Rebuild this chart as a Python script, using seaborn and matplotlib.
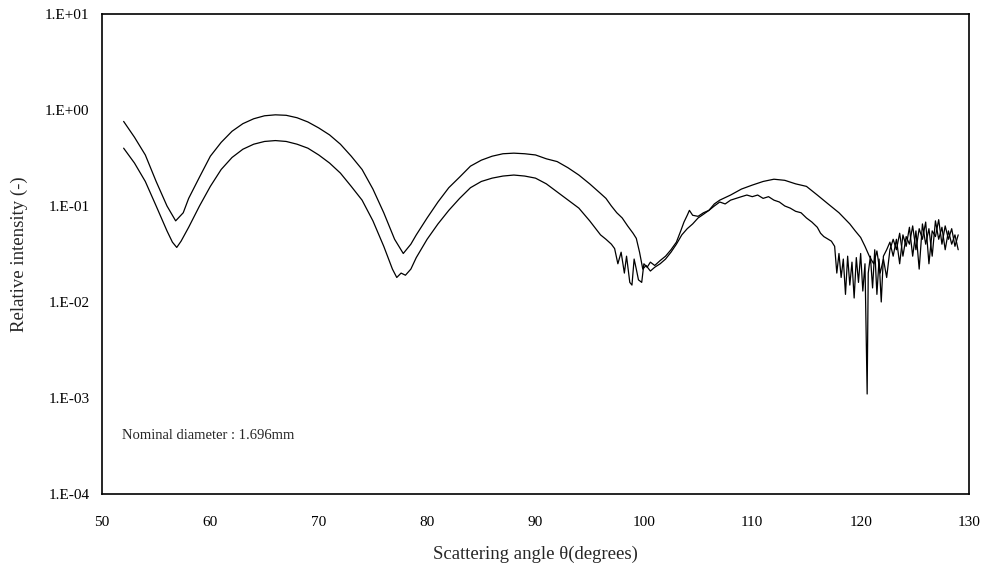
import numpy as np
import pandas as pd
import seaborn as sns
import matplotlib
matplotlib.use("Agg")
import matplotlib.pyplot as plt

# 상단 곡선 (smooth, fewer lobes)
angle_a = [52, 53, 54, 55, 56, 56.8, 57.5, 58, 59, 60, 61, 62, 63, 64, 65, 66, 67, 68, 69, 70,
           71, 72, 73, 74, 75, 76, 77, 77.8, 78.5, 79, 80, 81, 82, 83, 84, 85, 86, 87, 88, 89,
           90, 91, 92, 93, 94, 95, 96, 96.5, 97, 97.5, 98, 98.5, 99, 99.3, 99.6, 99.9, 100.2,
           100.6, 101, 101.5, 102, 102.5, 103, 103.5, 104, 104.5, 105, 105.5, 106, 106.5, 107,
           108, 109, 110, 111, 111.5, 112, 113, 114, 115, 116, 117, 118, 119, 119.5, 120, 120.4,
           120.8, 121.2, 121.5, 121.8, 122.1, 122.4, 122.7, 123.0, 123.3, 123.6, 123.9, 124.2,
           124.5, 124.8, 125.1, 125.4, 125.7, 126.0, 126.3, 126.6, 126.9, 127.2, 127.5, 127.8,
           128.1, 128.4, 128.7, 129.0]
inten_a = [0.76, 0.52, 0.34, 0.18, 0.10, 0.070, 0.085, 0.12, 0.20, 0.33, 0.46, 0.60, 0.72, 0.81,
           0.87, 0.89, 0.88, 0.83, 0.75, 0.65, 0.55, 0.44, 0.33, 0.24, 0.15, 0.085, 0.045, 0.032,
           0.040, 0.050, 0.075, 0.11, 0.155, 0.20, 0.26, 0.30, 0.33, 0.35, 0.355, 0.35, 0.34,
           0.31, 0.29, 0.25, 0.21, 0.17, 0.135, 0.12, 0.10, 0.085, 0.075, 0.062, 0.052, 0.046,
           0.033, 0.022, 0.024, 0.021, 0.023, 0.025, 0.028, 0.033, 0.040, 0.050, 0.058, 0.065,
           0.075, 0.082, 0.090, 0.105, 0.115, 0.13, 0.15, 0.165, 0.18, 0.185, 0.19, 0.185, 0.17,
           0.16, 0.13, 0.105, 0.085, 0.065, 0.055, 0.047, 0.038, 0.030, 0.025, 0.034, 0.020,
           0.028, 0.018, 0.035, 0.045, 0.035, 0.052, 0.030, 0.048, 0.040, 0.062, 0.035, 0.058,
           0.045, 0.068, 0.025, 0.055, 0.048, 0.072, 0.040, 0.062, 0.045, 0.058, 0.038, 0.050]

# 하단 곡선 (noisier, more lobes)
angle_b = [52, 53, 54, 55, 56, 56.5, 56.9, 57.3, 58, 59, 60, 61, 62, 63, 64, 65, 66, 67, 68, 69,
           70, 71, 72, 73, 74, 75, 76, 76.8, 77.2, 77.6, 78.0, 78.5, 79, 80, 81, 82, 83, 84, 85,
           86, 87, 88, 89, 90, 91, 92, 93, 94, 95, 96, 96.5, 97, 97.3, 97.6, 97.9, 98.2, 98.4,
           98.7, 98.9, 99.1, 99.3, 99.5, 99.8, 100, 100.3, 100.6, 101, 101.5, 102, 102.5, 103,
           103.4, 103.7, 104, 104.2, 104.5, 105, 105.5, 106, 106.5, 107, 107.5, 108, 108.5, 109,
           109.5, 110, 110.5, 111, 111.5, 112, 112.5, 113, 113.5, 114, 114.5, 115, 115.5, 116,
           116.3, 116.6, 117, 117.3, 117.6, 117.8, 118.0, 118.2, 118.4, 118.6, 118.8, 119.0,
           119.2, 119.4, 119.6, 119.8, 120.0, 120.2, 120.4, 120.6, 120.7, 120.9, 121.1, 121.3,
           121.5, 121.7, 121.9, 122.1, 122.4, 122.7, 123.0, 123.3, 123.6, 123.9, 124.2, 124.5,
           124.8, 125.1, 125.4, 125.7, 126.0, 126.3, 126.6, 126.9, 127.2, 127.5, 127.8, 128.1,
           128.4, 128.7, 129.0]
inten_b = [0.40, 0.28, 0.18, 0.10, 0.055, 0.042, 0.037, 0.043, 0.06, 0.10, 0.16, 0.24, 0.32,
           0.39, 0.44, 0.47, 0.48, 0.47, 0.44, 0.40, 0.34, 0.28, 0.22, 0.16, 0.115, 0.07, 0.038,
           0.022, 0.018, 0.020, 0.019, 0.022, 0.029, 0.045, 0.065, 0.09, 0.12, 0.155, 0.18,
           0.195, 0.205, 0.21, 0.205, 0.195, 0.17, 0.14, 0.115, 0.095, 0.07, 0.05, 0.045, 0.040,
           0.036, 0.025, 0.033, 0.020, 0.030, 0.016, 0.015, 0.028, 0.022, 0.017, 0.016, 0.025,
           0.023, 0.026, 0.024, 0.027, 0.030, 0.035, 0.042, 0.055, 0.068, 0.080, 0.090, 0.080,
           0.078, 0.085, 0.090, 0.10, 0.11, 0.105, 0.115, 0.12, 0.125, 0.13, 0.125, 0.13, 0.12,
           0.125, 0.115, 0.11, 0.10, 0.095, 0.088, 0.085, 0.075, 0.068, 0.060, 0.052, 0.048,
           0.045, 0.043, 0.038, 0.020, 0.032, 0.018, 0.028, 0.012, 0.030, 0.015, 0.026, 0.011,
           0.029, 0.016, 0.032, 0.013, 0.025, 0.0011, 0.020, 0.030, 0.014, 0.035, 0.012, 0.028,
           0.010, 0.030, 0.035, 0.042, 0.030, 0.045, 0.025, 0.050, 0.038, 0.060, 0.030, 0.055,
           0.022, 0.065, 0.040, 0.058, 0.030, 0.070, 0.045, 0.060, 0.035, 0.055, 0.040, 0.050,
           0.035]

x_ticks = [50, 60, 70, 80, 90, 100, 110, 120, 130]
y_ticks = [1e-4, 1e-3, 1e-2, 1e-1, 1e0, 1e1]
y_tick_labels = ["1.E-04", "1.E-03", "1.E-02", "1.E-01", "1.E+00", "1.E+01"]

sns.set_style("white")
plt.rcParams['font.family'] = ['Liberation Serif', 'DejaVu Serif']

df_a = pd.DataFrame({'angle': angle_a, 'intensity': inten_a})
df_b = pd.DataFrame({'angle': angle_b, 'intensity': inten_b})

fig = plt.figure(figsize=(9.87, 5.75), dpi=100)
ax = fig.add_axes([0.1033, 0.1409, 0.8785, 0.8348])

sns.lineplot(data=df_a, x='angle', y='intensity', ax=ax, color='black', linewidth=0.9, estimator=None)
sns.lineplot(data=df_b, x='angle', y='intensity', ax=ax, color='black', linewidth=0.9, estimator=None)

ax.set_yscale('log')
ax.set_xlim(50, 130)
ax.set_ylim(1e-4, 1e1)
ax.set_xticks(x_ticks)
ax.set_xticklabels([str(t) for t in x_ticks])
ax.set_yticks(y_ticks)
ax.set_yticklabels(y_tick_labels)
ax.minorticks_off()
ax.tick_params(direction='in', length=4, width=1, labelsize=11, colors='black')
ax.tick_params(axis='x', pad=16)
ax.tick_params(axis='y', pad=9)

for s in ax.spines.values():
    s.set_color('black')
    s.set_linewidth(1.2)

ax.set_xlabel('Scattering angle θ(degrees)', fontsize=13.5, labelpad=12)
ax.set_ylabel('Relative intensity (-)', fontsize=13.5, labelpad=12)

ax.text(0.023, 0.121, 'Nominal diameter : 1.696mm', transform=ax.transAxes,
        fontsize=10.5, va='center', ha='left')

fig.savefig('out.png', dpi=100)
